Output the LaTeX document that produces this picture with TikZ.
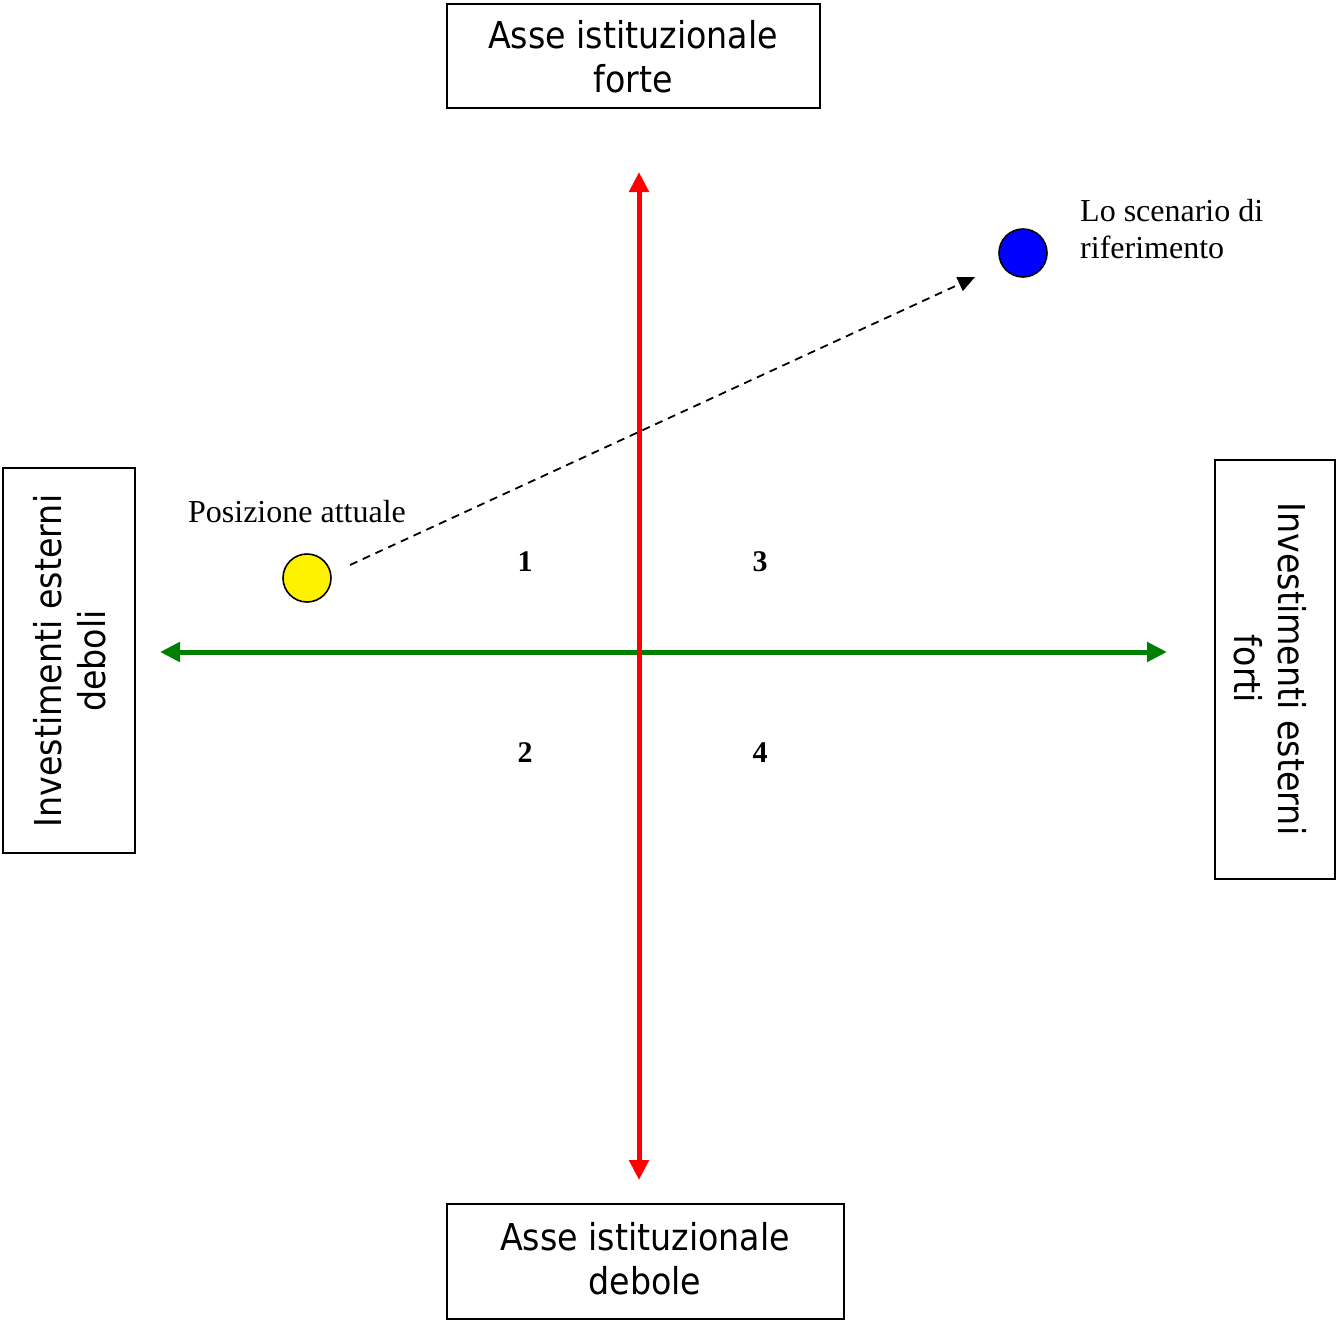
\documentclass[tikz,border=0pt]{standalone}
\usepackage{fontspec}
\setmainfont{Liberation Serif}
\newfontfamily\boxfont{DejaVu Sans Condensed}
\usetikzlibrary{arrows.meta}
\definecolor{axred}{RGB}{255,0,0}
\definecolor{axgreen}{RGB}{0,128,0}
\begin{document}
\begin{tikzpicture}[x=1pt,y=-1pt,
  axbox/.style={draw=black,line width=1.6pt,fill=white},
  boxtext/.style={font=\boxfont\fontsize{37}{44}\selectfont,align=center,inner sep=0pt},
  lbl/.style={font=\fontsize{32}{37}\selectfont,inner sep=0pt},
  num/.style={font=\bfseries\fontsize{30}{36}\selectfont,inner sep=0pt},
  dot/.style={circle,draw=black,line width=1.6pt,minimum size=48pt,inner sep=0pt},
  redaxis/.style={axred,line width=5pt,{Triangle[length=20pt,width=19pt]}-{Triangle[length=20pt,width=19pt]}},
  greenaxis/.style={axgreen,line width=5pt,{Triangle[length=20pt,width=19pt]}-{Triangle[length=20pt,width=19pt]}}
]
\useasboundingbox (0,0) rectangle (1336,1320);
% boxes
\draw[axbox] (447,4) rectangle (820,108);
\node[boxtext] (top) at (633,57) {Asse istituzionale\\forte};
\draw[axbox] (447,1204) rectangle (844,1319);
\node[boxtext] (bottom) at (645,1259) {Asse istituzionale\\debole};
\draw[axbox] (3,468) rectangle (135,853);
\node[boxtext,rotate=90] (left) at (70,661) {Investimenti esterni\\deboli};
\draw[axbox] (1215,460) rectangle (1335,879);
\node[boxtext,rotate=-90] (right) at (1270,669) {Investimenti esterni\\forti};
% axes
\coordinate (vtop) at (639,172);
\coordinate (vbot) at (639,1180);
\coordinate (hleft) at (160,652);
\coordinate (hright) at (1167,652);
\draw[greenaxis] (hleft) -- (hright);
\draw[redaxis] (vbot) -- (vtop);
% dots
\node[dot,fill=yellow] (cur) at (307,578) {};
\node[dot,fill=blue] (ref) at (1023,253) {};
\coordinate (dstart) at (350,565);
\coordinate (dend) at (975,277);
\draw[black,line width=1.8pt,dash pattern=on 8pt off 6pt,-{Triangle[length=17pt,width=15pt]}] (dstart) -- (dend);
% labels
\node[lbl] (pos) at (297,512) {Posizione attuale};
\node[lbl,anchor=west,align=left] (scen) at (1080,229) {Lo scenario di\\riferimento};
\node[num] (n1) at (525,562) {1};
\node[num] (n3) at (760,562) {3};
\node[num] (n2) at (525,753) {2};
\node[num] (n4) at (760,753) {4};
\end{tikzpicture}
\end{document}
